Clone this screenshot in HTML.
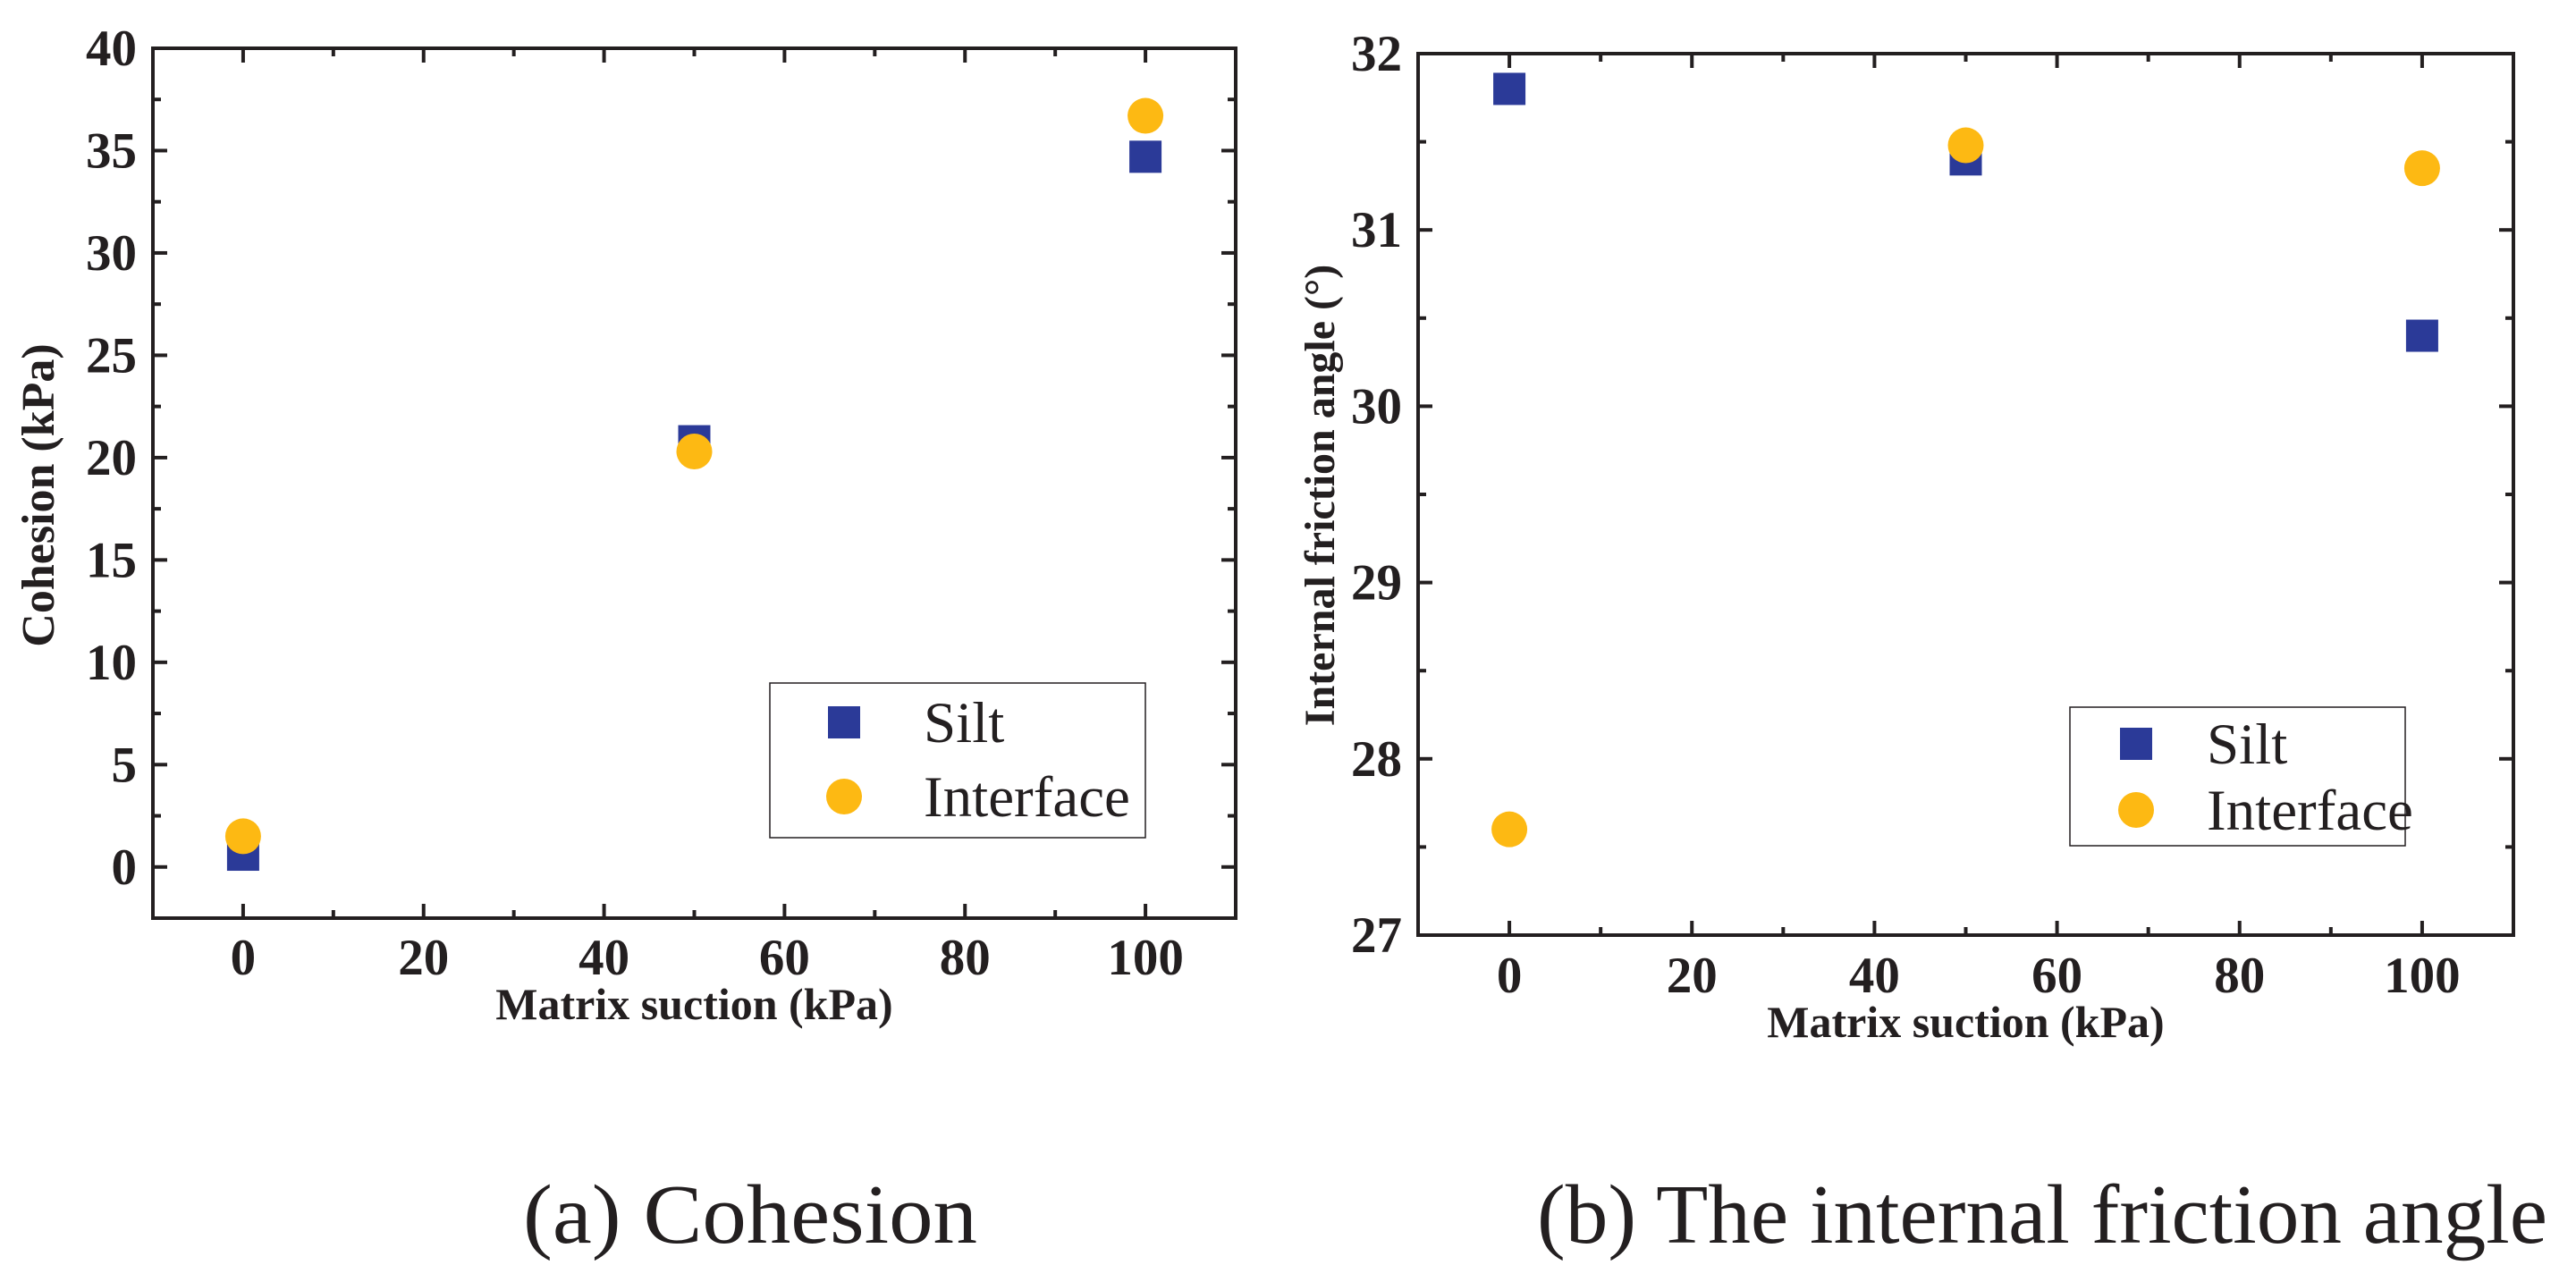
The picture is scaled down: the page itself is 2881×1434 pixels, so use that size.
<!DOCTYPE html>
<html><head><meta charset="utf-8"><style>
html,body{margin:0;padding:0;background:#fff}
svg{display:block}
text{fill:#231f20}
</style></head><body>
<svg id="fig" width="2881" height="1434" viewBox="0 0 2881 1434" xmlns="http://www.w3.org/2000/svg">
<g id="pa"></g>
<g id="pb"></g>
<text x="585" y="1390" font-family="Liberation Serif, serif" font-size="94" textLength="508" lengthAdjust="spacingAndGlyphs">(a) Cohesion</text>
<text x="1719" y="1390" font-family="Liberation Serif, serif" font-size="94" textLength="1130" lengthAdjust="spacingAndGlyphs">(b) The internal friction angle</text>
</svg>
<script>
const suctionX = [0, 50, 100];
const cohesionSilt = [0.6, 20.8, 34.7];
const cohesionInterface = [1.5, 20.3, 36.7];
const frictionSilt = [31.8, 31.4, 30.4];
const frictionInterface = [27.6, 31.48, 31.35];
const xTicks = [0, 20, 40, 60, 80, 100];
const cohesionTicks = [0, 5, 10, 15, 20, 25, 30, 35, 40];
const frictionTicks = [27, 28, 29, 30, 31, 32];

const NS = 'http://www.w3.org/2000/svg';
function mk(tag, attrs, parent, txt){
  const e = document.createElementNS(NS, tag);
  for (const k in attrs) e.setAttribute(k, attrs[k]);
  if (txt !== undefined) e.textContent = txt;
  parent.appendChild(e);
  return e;
}
const DARK = '#231f20', NAVY = '#2b3a98', GOLD = '#fdb913';

function chart(g, cfg){
  const sx = v => cfg.L + (v - cfg.xmin) / (cfg.xmax - cfg.xmin) * (cfg.R - cfg.L);
  const sy = v => cfg.B - (v - cfg.ymin) / (cfg.ymax - cfg.ymin) * (cfg.B - cfg.T);
  for (let v = cfg.xmin; v <= cfg.xmax + 1e-9; v += cfg.xminor) {
    const major = xTicks.includes(Math.round(v*1000)/1000);
    const len = major ? 16 : 9;
    const t1 = mk('line', {x1: sx(v), x2: sx(v), y1: cfg.B, y2: cfg.B - len, stroke: DARK, 'stroke-width': 4}, g);
    
    
    const t2 = mk('line', {x1: sx(v), x2: sx(v), y1: cfg.T, y2: cfg.T + len, stroke: DARK, 'stroke-width': 4}, g);
    
    
  }
  for (let v = cfg.ymin; v <= cfg.ymax + 1e-9; v += cfg.yminor) {
    const major = cfg.yTicks.some(t => Math.abs(t - v) < 1e-6);
    const len = major ? 16 : 9;
    const t1 = mk('line', {x1: cfg.L, x2: cfg.L + len, y1: sy(v), y2: sy(v), stroke: DARK, 'stroke-width': 4}, g);
    
    
    const t2 = mk('line', {x1: cfg.R, x2: cfg.R - len, y1: sy(v), y2: sy(v), stroke: DARK, 'stroke-width': 4}, g);
    
    
  }
  const fr = mk('rect', {x: cfg.L, y: cfg.T, width: cfg.R - cfg.L, height: cfg.B - cfg.T, fill: 'none', stroke: DARK, 'stroke-width': 4}, g);
  
  
  const font = 'Liberation Serif, serif';
  xTicks.forEach(v => {
    const t = mk('text', {x: sx(v), y: cfg.xLabY, 'text-anchor': 'middle', 'font-family': font, 'font-weight': 'bold', 'font-size': 57}, g, String(v));
    
    
  });
  cfg.yTicks.forEach(v => {
    const t = mk('text', {x: cfg.L - 18, y: sy(v) + 19, 'text-anchor': 'end', 'font-family': font, 'font-weight': 'bold', 'font-size': 57}, g, String(v));
    
    
  });
  const xt = mk('text', {x: (cfg.L + cfg.R)/2, y: cfg.xTitleY, 'text-anchor': 'middle', 'font-family': font, 'font-weight': 'bold', 'font-size': 50}, g, 'Matrix suction (kPa)');
  
  
  const yt = mk('text', {x: 0, y: 0, 'text-anchor': 'middle', 'font-family': font, 'font-weight': 'bold', 'font-size': cfg.yTitleSize, transform: `translate(${cfg.yTitleX},554) rotate(-90)`}, g, cfg.yTitle);
  
  
  suctionX.forEach((x, i) => {
    const s = mk('rect', {x: sx(x) - 18, y: sy(cfg.silt[i]) - 18, width: 36, height: 36, fill: NAVY}, g);
    
    
  });
  suctionX.forEach((x, i) => {
    const c = mk('circle', {cx: sx(x), cy: sy(cfg.iface[i]), r: 20, fill: GOLD}, g);
    
    
  });
  const lg = mk('g', {}, g);
  
  
  mk('rect', {x: cfg.lg[0], y: cfg.lg[1], width: cfg.lg[2], height: cfg.lg[3], fill: '#fff', stroke: DARK, 'stroke-width': 1.5}, lg);
  const ls = mk('rect', {x: cfg.lm - 18, y: cfg.ly1 - 18, width: 36, height: 36, fill: NAVY}, lg);
  
  
  const lc = mk('circle', {cx: cfg.lm, cy: cfg.ly2, r: 20, fill: GOLD}, lg);
  
  
  const l1 = mk('text', {x: cfg.lt, y: cfg.ly1 + 22, 'font-family': font, 'font-size': 65}, lg, 'Silt');
  
  
  const l2 = mk('text', {x: cfg.lt, y: cfg.ly2 + 22, 'font-family': font, 'font-size': 65}, lg, 'Interface');
  
  
}

chart(document.getElementById('pa'), {
  L: 171, R: 1382, T: 54, B: 1027, xmin: -10, xmax: 110, ymin: -2.5, ymax: 40,
  xminor: 10, yminor: 2.5, yTicks: cohesionTicks, silt: cohesionSilt, iface: cohesionInterface,
  xLabY: 1090, xTitleY: 1140, yTitleX: 60, yTitleSize: 52, yTitle: 'Cohesion (kPa)',
  lg: [861, 764, 420, 173], lm: 944, ly1: 808, ly2: 891, lt: 1033
});
chart(document.getElementById('pb'), {
  L: 1586, R: 2811, T: 60, B: 1046, xmin: -10, xmax: 110, ymin: 27, ymax: 32,
  xminor: 10, yminor: 0.5, yTicks: frictionTicks, silt: frictionSilt, iface: frictionInterface,
  xLabY: 1110, xTitleY: 1160, yTitleX: 1492, yTitleSize: 48, yTitle: 'Internal friction angle (°)',
  lg: [2315, 791, 375, 155], lm: 2389, ly1: 832, ly2: 906, lt: 2468
});
</script>
</body></html>
